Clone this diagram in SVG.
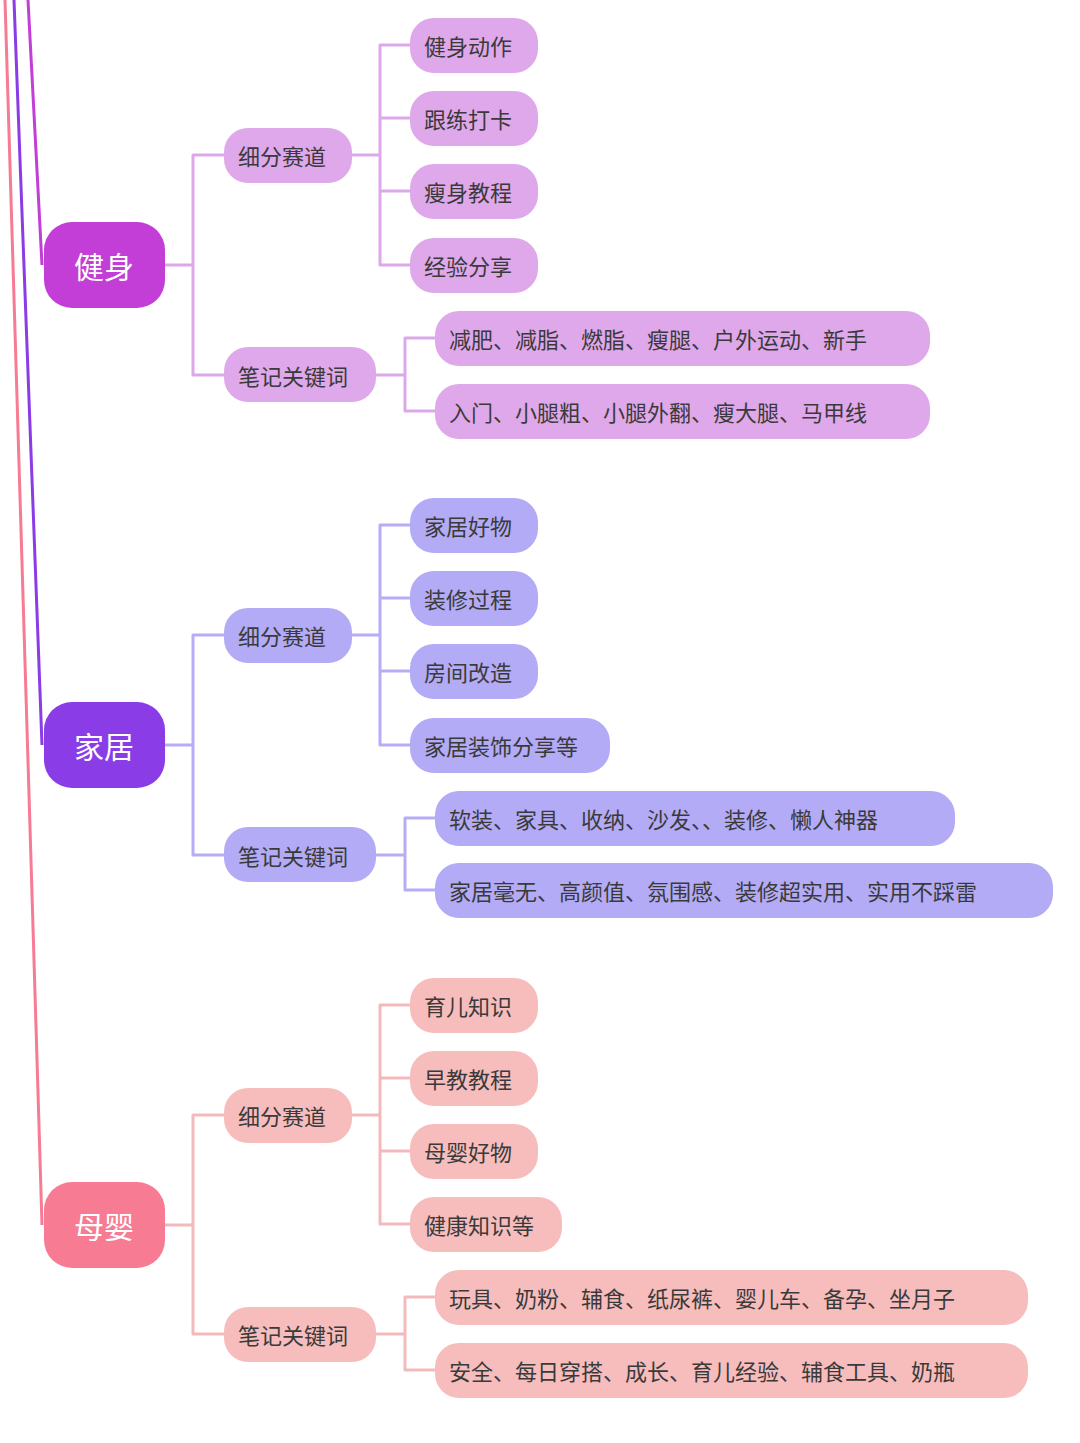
<svg xmlns="http://www.w3.org/2000/svg" width="1080" height="1443" viewBox="0 0 1080 1443">
<style>
text{font-family:"Noto Sans CJK SC","Noto Sans",sans-serif;font-size:22px;fill:#3a3a3a;dominant-baseline:central}
.root{font-size:30px;fill:#fff;text-anchor:middle}
.c{fill:none;stroke-width:3;stroke-linejoin:round}
.a .n{fill:#dfa8ea}.a .c{stroke:#dda8ea}.a .r{fill:#c23ed6}
.b .n{fill:#b3abf6}.b .c{stroke:#b5aef7}.b .r{fill:#8a3de6}
.p .n{fill:#f7bdbd}.p .c{stroke:#f3b9bc}.p .r{fill:#f67b93}
</style>
<g id="main-lines" fill="none" stroke-width="3">
<path d="M28 0 L42 265" stroke="#c23ed6"/>
<path d="M14 0 L42 745" stroke="#8a3de6"/>
<path d="M5 0 L42 1225" stroke="#f67b93"/>
</g>
<g id="fitness" class="a">
<g id="conn-a"><path class="c" d="M165 265H193M224 155H193V375H224M352 155H380M410 45H380V265H410M380 118H410M380 191H410M376 375H405M435 338H405V411H435"/></g>
<g id="a-root"><rect class="r" x="44" y="222" width="121" height="86" rx="28"/><text class="root" x="104" y="265">健身</text></g>
<g id="a-sub"><rect class="n" x="224" y="128" width="128" height="55" rx="24"/><text x="238" y="155">细分赛道</text></g>
<g id="a-kw"><rect class="n" x="224" y="347" width="152" height="55" rx="24"/><text x="238" y="375">笔记关键词</text></g>
<g id="a-l1"><rect class="n" x="410" y="18" width="128" height="55" rx="24"/><text x="424" y="45">健身动作</text></g>
<g id="a-l2"><rect class="n" x="410" y="91" width="128" height="55" rx="24"/><text x="424" y="118">跟练打卡</text></g>
<g id="a-l3"><rect class="n" x="410" y="164" width="128" height="55" rx="24"/><text x="424" y="191">瘦身教程</text></g>
<g id="a-l4"><rect class="n" x="410" y="238" width="128" height="55" rx="24"/><text x="424" y="265">经验分享</text></g>
<g id="a-k1"><rect class="n" x="435" y="311" width="495" height="55" rx="24"/><text x="449" y="338">减肥、减脂、燃脂、瘦腿、户外运动、新手</text></g>
<g id="a-k2"><rect class="n" x="435" y="384" width="495" height="55" rx="24"/><text x="449" y="411">入门、小腿粗、小腿外翻、瘦大腿、马甲线</text></g>
</g>
<g id="home" class="b">
<g id="conn-b"><path class="c" d="M165 745H193M224 635H193V855H224M352 635H380M410 525H380V745H410M380 598H410M380 671H410M376 855H405M435 818H405V890H435"/></g>
<g id="b-root"><rect class="r" x="44" y="702" width="121" height="86" rx="28"/><text class="root" x="104" y="745">家居</text></g>
<g id="b-sub"><rect class="n" x="224" y="608" width="128" height="55" rx="24"/><text x="238" y="635">细分赛道</text></g>
<g id="b-kw"><rect class="n" x="224" y="827" width="152" height="55" rx="24"/><text x="238" y="855">笔记关键词</text></g>
<g id="b-l1"><rect class="n" x="410" y="498" width="128" height="55" rx="24"/><text x="424" y="525">家居好物</text></g>
<g id="b-l2"><rect class="n" x="410" y="571" width="128" height="55" rx="24"/><text x="424" y="598">装修过程</text></g>
<g id="b-l3"><rect class="n" x="410" y="644" width="128" height="55" rx="24"/><text x="424" y="671">房间改造</text></g>
<g id="b-l4"><rect class="n" x="410" y="718" width="200" height="55" rx="24"/><text x="424" y="745">家居装饰分享等</text></g>
<g id="b-k1"><rect class="n" x="435" y="791" width="520" height="55" rx="24"/><text x="449" y="818">软装、家具、收纳、沙发、、装修、懒人神器</text></g>
<g id="b-k2"><rect class="n" x="435" y="863" width="618" height="55" rx="24"/><text x="449" y="890">家居毫无、高颜值、氛围感、装修超实用、实用不踩雷</text></g>
</g>
<g id="baby" class="p">
<g id="conn-p"><path class="c" d="M165 1225H193M224 1115H193V1334H224M352 1115H380M410 1005H380V1224H410M380 1078H410M380 1151H410M376 1334H405M435 1297H405V1370H435"/></g>
<g id="p-root"><rect class="r" x="44" y="1182" width="121" height="86" rx="28"/><text class="root" x="104" y="1225">母婴</text></g>
<g id="p-sub"><rect class="n" x="224" y="1088" width="128" height="55" rx="24"/><text x="238" y="1115">细分赛道</text></g>
<g id="p-kw"><rect class="n" x="224" y="1307" width="152" height="55" rx="24"/><text x="238" y="1334">笔记关键词</text></g>
<g id="p-l1"><rect class="n" x="410" y="978" width="128" height="55" rx="24"/><text x="424" y="1005">育儿知识</text></g>
<g id="p-l2"><rect class="n" x="410" y="1051" width="128" height="55" rx="24"/><text x="424" y="1078">早教教程</text></g>
<g id="p-l3"><rect class="n" x="410" y="1124" width="128" height="55" rx="24"/><text x="424" y="1151">母婴好物</text></g>
<g id="p-l4"><rect class="n" x="410" y="1197" width="152" height="55" rx="24"/><text x="424" y="1224">健康知识等</text></g>
<g id="p-k1"><rect class="n" x="435" y="1270" width="593" height="55" rx="24"/><text x="449" y="1297">玩具、奶粉、辅食、纸尿裤、婴儿车、备孕、坐月子</text></g>
<g id="p-k2"><rect class="n" x="435" y="1343" width="593" height="55" rx="24"/><text x="449" y="1370">安全、每日穿搭、成长、育儿经验、辅食工具、奶瓶</text></g>
</g>
</svg>
